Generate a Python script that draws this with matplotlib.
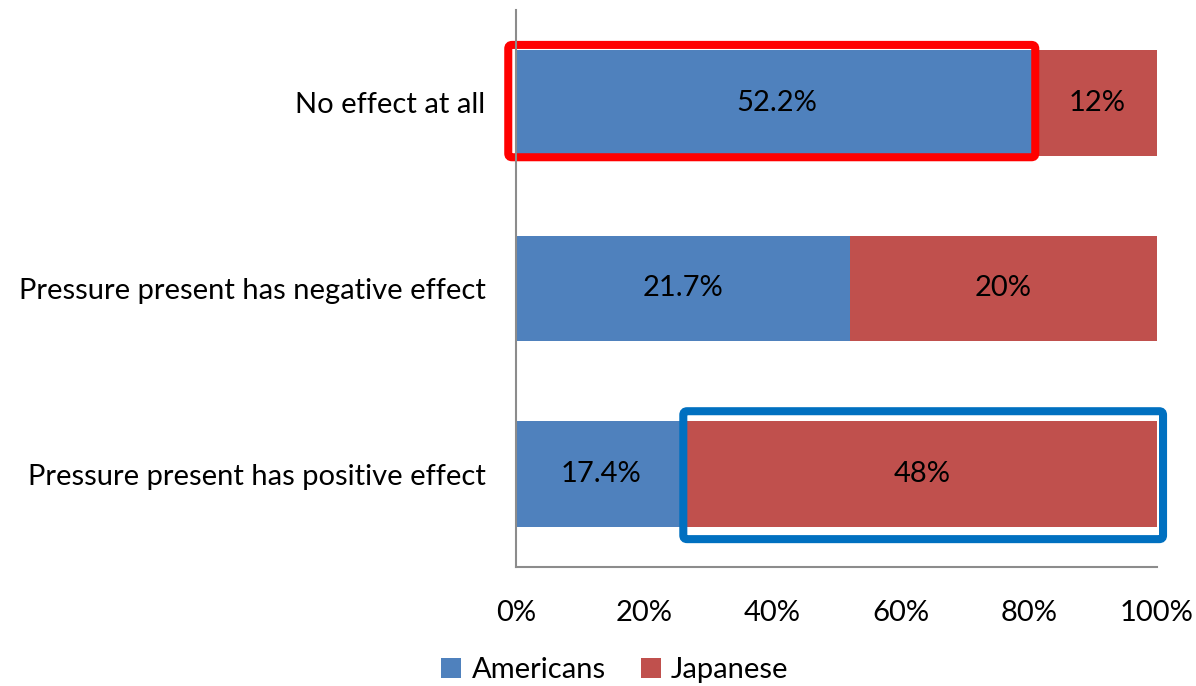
import matplotlib.pyplot as plt
from matplotlib.patches import FancyBboxPatch
from matplotlib.ticker import PercentFormatter
import numpy as np

# Survey answers, bottom row first
categories = ["Pressure present has positive effect",
              "Pressure present has negative effect",
              "No effect at all"]
americans = [17.4, 21.7, 52.2]
japanese = [48, 20, 12]
series_names = ["Americans", "Japanese"]

blue = "#4F81BD"
red = "#C0504D"

plt.rcParams['font.family'] = ['Lato', 'DejaVu Sans']

am = np.array(americans)
jp = np.array(japanese)
total = am + jp
am_share = am / total * 100
jp_share = jp / total * 100

fig = plt.figure(figsize=(11.96, 6.86), dpi=100)
ax = fig.add_axes([0.4314, 0.1735, 0.5360, 0.8119])
y = np.arange(len(categories))
h = 0.57

b1 = ax.barh(y, am_share, height=h, color=blue, label=series_names[0])
b2 = ax.barh(y, jp_share, left=am_share, height=h, color=red, label=series_names[1])

fs = 21
for i in range(len(categories)):
    ax.text(am_share[i] / 2, y[i], f"{americans[i]:g}%", ha="center", va="center",
            fontsize=fs, color="black")
    ax.text(am_share[i] + jp_share[i] / 2, y[i], f"{japanese[i]:g}%", ha="center",
            va="center", fontsize=fs, color="black")

ax.set_xlim(0, 100)
ax.set_ylim(-0.5, 2.5)
ax.set_xticks(np.arange(0, 101, 20))
ax.xaxis.set_major_formatter(PercentFormatter(decimals=0))
ax.set_yticks(y)
ax.set_yticklabels(categories)
ax.tick_params(axis="x", length=0, pad=24, labelsize=fs)
ax.tick_params(axis="y", length=0, pad=22, labelsize=fs)
for side in ["top", "right"]:
    ax.spines[side].set_visible(False)
for side in ["left", "bottom"]:
    ax.spines[side].set_color("#8c8c8c")
    ax.spines[side].set_linewidth(1.5)

# highlight boxes around the two notable segments; aspect keeps corners round
aspect = (3 / 557) / (100 / 641)
top = len(categories) - 1
red_box = FancyBboxPatch((-1.2, top - h / 2 - 0.008), am_share[top] + 0.9, h + 0.035,
                         boxstyle="round,pad=0,rounding_size=0.6", fill=False,
                         edgecolor="#FF0000", linewidth=5.8, clip_on=False,
                         mutation_aspect=aspect)
ax.add_patch(red_box)
blue_box = FancyBboxPatch((am_share[0] - 0.5, -h / 2 - 0.065), jp_share[0] + 1.44, h + 0.119,
                          boxstyle="round,pad=0,rounding_size=0.6", fill=False,
                          edgecolor="#0070C0", linewidth=5.8, clip_on=False,
                          mutation_aspect=aspect)
ax.add_patch(blue_box)

fig.legend(handles=[b1, b2], labels=series_names, loc="center",
           bbox_to_anchor=(0.514, 0.023), ncol=2, frameon=False, fontsize=fs,
           handlelength=0.7, handleheight=0.7, handletextpad=0.35, columnspacing=1.2)

fig.savefig("out.png", dpi=100, facecolor="white")
